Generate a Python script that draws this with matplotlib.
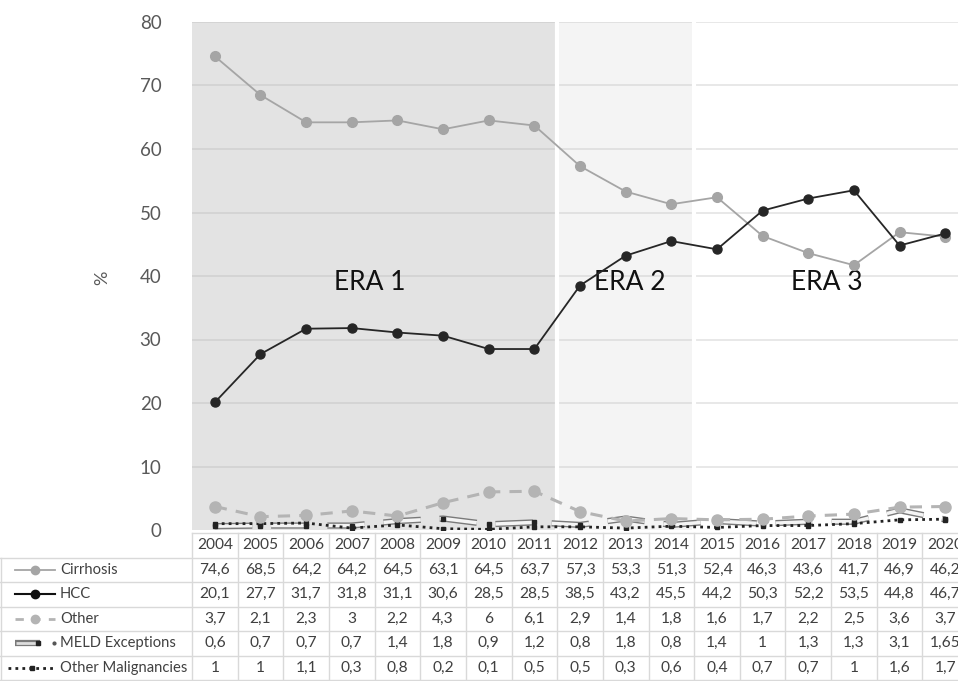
import matplotlib.pyplot as plt

plt.rcParams['font.family'] = ['Lato', 'DejaVu Sans']

years = ['2004', '2005', '2006', '2007', '2008', '2009', '2010', '2011', '2012',
         '2013', '2014', '2015', '2016', '2017', '2018', '2019', '2020']
cirrhosis = [74.6, 68.5, 64.2, 64.2, 64.5, 63.1, 64.5, 63.7, 57.3, 53.3, 51.3,
             52.4, 46.3, 43.6, 41.7, 46.9, 46.2]
hcc = [20.1, 27.7, 31.7, 31.8, 31.1, 30.6, 28.5, 28.5, 38.5, 43.2, 45.5,
       44.2, 50.3, 52.2, 53.5, 44.8, 46.7]
other = [3.7, 2.1, 2.3, 3, 2.2, 4.3, 6, 6.1, 2.9, 1.4, 1.8, 1.6, 1.7, 2.2, 2.5, 3.6, 3.7]
meld = [0.6, 0.7, 0.7, 0.7, 1.4, 1.8, 0.9, 1.2, 0.8, 1.8, 0.8, 1.4, 1, 1.3, 1.3, 3.1, 1.65]
other_mal = [1, 1, 1.1, 0.3, 0.8, 0.2, 0.1, 0.5, 0.5, 0.3, 0.6, 0.4, 0.7, 0.7, 1, 1.6, 1.7]

# table text as printed (comma decimals)
table_rows = [
    ('Cirrhosis', ['74,6', '68,5', '64,2', '64,2', '64,5', '63,1', '64,5', '63,7', '57,3',
                   '53,3', '51,3', '52,4', '46,3', '43,6', '41,7', '46,9', '46,2']),
    ('HCC', ['20,1', '27,7', '31,7', '31,8', '31,1', '30,6', '28,5', '28,5', '38,5',
             '43,2', '45,5', '44,2', '50,3', '52,2', '53,5', '44,8', '46,7']),
    ('Other', ['3,7', '2,1', '2,3', '3', '2,2', '4,3', '6', '6,1', '2,9', '1,4', '1,8',
               '1,6', '1,7', '2,2', '2,5', '3,6', '3,7']),
    ('MELD Exceptions', ['0,6', '0,7', '0,7', '0,7', '1,4', '1,8', '0,9', '1,2', '0,8',
                         '1,8', '0,8', '1,4', '1', '1,3', '1,3', '3,1', '1,65']),
    ('Other Malignancies', ['1', '1', '1,1', '0,3', '0,8', '0,2', '0,1', '0,5', '0,5',
                            '0,3', '0,6', '0,4', '0,7', '0,7', '1', '1,6', '1,7']),
]

W, H = 958, 681
col_w = 45.65
x0 = 192  # pixel of left edge of plot area
right_px = x0 + col_w * len(years)

fig = plt.figure(figsize=(W / 100, H / 100), dpi=100)
ax = fig.add_axes([x0 / W, 1 - 530 / H, (right_px - x0) / W, (530 - 22) / H])

x = list(range(len(years)))

# eras
ax.axvspan(-0.5, 7.5, color='#e3e3e3', zorder=0, lw=0)
ax.axvspan(7.5, 10.5, color='#f4f4f4', zorder=0, lw=0)
for yv in range(10, 81, 10):
    ax.plot([-0.5, 7.5], [yv, yv], color='#d2d2d2', lw=1.2, zorder=0.5)
    ax.plot([7.5, 10.5], [yv, yv], color='#dedede', lw=1.2, zorder=0.5)
    ax.plot([10.5, 16.5], [yv, yv], color='#e4e4e4', lw=1.2, zorder=0.5)
ax.axvline(7.5, color='white', lw=3, zorder=0.8)
ax.axvline(10.5, color='white', lw=3, zorder=0.8)

ax.text(3.4, 39, 'ERA 1', fontsize=19, ha='center', va='center', color='#111111')
ax.text(9.1, 39, 'ERA 2', fontsize=19, ha='center', va='center', color='#111111')
ax.text(13.4, 39, 'ERA 3', fontsize=19, ha='center', va='center', color='#111111')

# series
ax.plot(x, cirrhosis, color='#a5a5a5', lw=1.3, marker='o', ms=7, zorder=3)
ax.plot(x, hcc, color='#262626', lw=1.3, marker='o', ms=6.5, zorder=3)
ax.plot(x, other, color='#b4b4b4', lw=2.2, ls=(0, (4, 3)), marker='o', ms=8, zorder=3)
ax.plot(x, meld, color='#7a7a7a', lw=4.5, ls=(0, (6, 3)), zorder=2.5)
ax.plot(x, meld, color='#f4f4f4', lw=2.5, ls=(0, (10.8, 5.4)), marker='s', ms=3.5,
        mfc='#222222', mec='#222222', zorder=2.6)
ax.plot(x, other_mal, color='#222222', lw=2, ls=(0, (1, 1.5)), marker='s', ms=3, zorder=2.7)

ax.set_xlim(-0.5, 16.5)
ax.set_ylim(0, 80)
ax.set_yticks(range(0, 81, 10))
ax.set_xticks([])
ax.tick_params(axis='y', length=0, labelsize=13.5, labelcolor='#595959', pad=22)
for s in ax.spines.values():
    s.set_visible(False)
fig.text(102 / W, 1 - 278 / H, '%', rotation=90, fontsize=13, color='#595959',
         ha='center', va='center')

# table
tab = fig.add_axes([0, 0, right_px / W, 148 / H])
tab.set_xlim(-x0 / col_w - 0.5, 16.5)
tab.set_ylim(148, 0)
tab.axis('off')
row_h = 24.5
grid_c = '#d9d9d9'
tab.plot([-0.5, 16.5], [0, 0], color=grid_c, lw=1, clip_on=False)
for r in range(1, 7):
    tab.plot([-x0 / col_w - 0.5, 16.5], [r * row_h, r * row_h], color=grid_c, lw=1, clip_on=False)
for k in range(len(years) + 1):
    tab.plot([k - 0.5, k - 0.5], [0, 6 * row_h], color=grid_c, lw=1, clip_on=False)
tab.plot([-x0 / col_w - 0.5 + 0.02] * 2, [row_h, 6 * row_h], color=grid_c, lw=1, clip_on=False)

fs = 11.2
for i, yr in enumerate(years):
    tab.text(i, row_h / 2, yr, ha='center', va='center', fontsize=fs, color='#404040')
for r, (name, vals) in enumerate(table_rows):
    yc = (r + 1.5) * row_h
    for i, v in enumerate(vals):
        tab.text(i, yc, v, ha='center', va='center', fontsize=fs, color='#404040')

# legend column
lx = lambda px: px / col_w - x0 / col_w - 0.5
text_px = 60
yc = [(r + 1.5) * row_h for r in range(5)]
tab.plot([lx(15), lx(55)], [yc[0]] * 2, color='#a5a5a5', lw=1.3)
tab.plot([lx(35)], [yc[0]], 'o', color='#a5a5a5', ms=6)
tab.plot([lx(15), lx(55)], [yc[1]] * 2, color='#111111', lw=1.5)
tab.plot([lx(35)], [yc[1]], 'o', color='#111111', ms=6)
tab.plot([lx(15), lx(55)], [yc[2]] * 2, color='#b4b4b4', lw=2, ls=(0, (3, 3)))
tab.plot([lx(35)], [yc[2]], 'o', color='#b4b4b4', ms=6)
tab.plot([lx(15), lx(40)], [yc[3]] * 2, color='#7a7a7a', lw=4.5, solid_capstyle='butt')
tab.plot([lx(16), lx(39)], [yc[3]] * 2, color='#dddddd', lw=2, solid_capstyle='butt')
tab.plot([lx(38)], [yc[3]], 's', color='#222222', ms=3)
tab.plot([lx(54)], [yc[3]], 'o', color='#555555', ms=2)
tab.plot([lx(8), lx(55)], [yc[4]] * 2, color='#222222', lw=2, ls=(0, (1, 1.5)))
tab.plot([lx(32)], [yc[4]], 's', color='#222222', ms=3)
for r, (name, vals) in enumerate(table_rows):
    tab.text(lx(text_px), yc[r], name, ha='left', va='center', fontsize=10.6, color='#404040')

fig.savefig('out.png', dpi=100)
